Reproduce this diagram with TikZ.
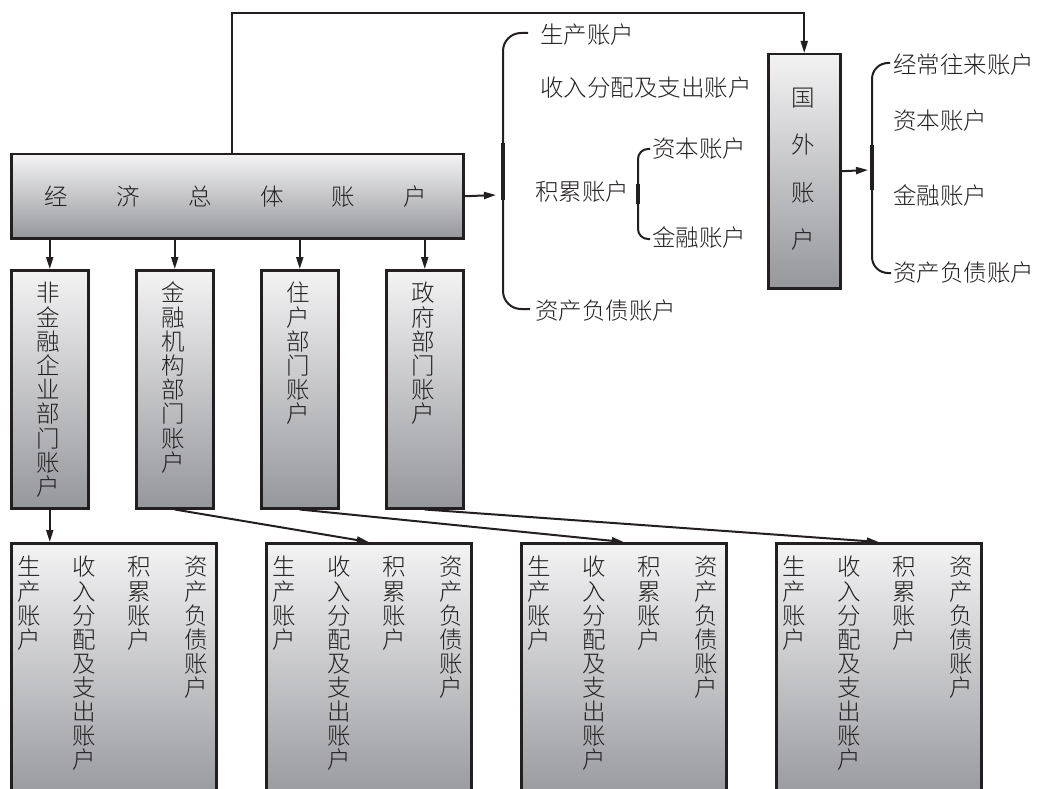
\documentclass[tikz,border=0pt]{standalone}
\usepackage{fontspec}
\IfFontExistsTF{Noto Sans CJK SC Light}
  {\newfontfamily\cjk{Noto Sans CJK SC Light}}
  {\newfontfamily\cjk{Noto Sans CJK SC}}
\usetikzlibrary{arrows.meta}
\definecolor{ink}{RGB}{35,31,32}
\definecolor{gtop}{RGB}{243,243,244}
\definecolor{gbot}{RGB}{150,151,155}
\newcommand\vstackcol[5]{%
  \foreach \ch [count=\i from 0] in {#5} {\node[txt] (#1-\i) at (#2, #3+\i*#4) {\ch};}}
\begin{document}
\begin{tikzpicture}[x=1pt,y=-1pt,
  box/.style={draw=ink,line width=2.5pt,top color=gtop,bottom color=gbot,rectangle,inner sep=0pt,anchor=north west},
  txt/.style={font=\cjk\fontsize{23.5}{24}\selectfont,text=ink,inner sep=0pt,text height=20.7pt,text depth=2.8pt},
  conn/.style={draw=ink,line width=2pt,-{Triangle[length=12pt,width=7pt]}},
  brace/.style={draw=ink,line width=2pt}]
\clip (0,0) rectangle (1037,789);
% boxes
\node[box,minimum width=452pt,minimum height=84pt] (eco) at (10,153) {};
\node[box,minimum width=72pt,minimum height=234pt] (frn) at (767,53) {};
\node[box,minimum width=77pt,minimum height=238pt] (sec1) at (10,269) {};
\node[box,minimum width=77pt,minimum height=238pt] (sec2) at (135,269) {};
\node[box,minimum width=77pt,minimum height=238pt] (sec3) at (260,269) {};
\node[box,minimum width=77pt,minimum height=238pt] (sec4) at (385,269) {};
\node[box,minimum width=205pt,minimum height=262pt] (bA) at (10,542) {};
\node[box,minimum width=205pt,minimum height=262pt] (bB) at (265,542) {};
\node[box,minimum width=205pt,minimum height=262pt] (bC) at (520,542) {};
\node[box,minimum width=205pt,minimum height=262pt] (bD) at (775,542) {};
% main text
\foreach \ch/\xx [count=\i] in {经/56,济/128,总/200,体/272,账/343,户/415}
  {\node[txt] (eco-\i) at (\xx,197) {\ch};}
% foreign text
\foreach \ch/\yy [count=\i] in {国/98,外/145,账/193,户/240}
  {\node[txt] (frn-\i) at (803,\yy) {\ch};}
% sector texts
\vstackcol{s1}{48.5}{293}{24.2}{非,金,融,企,业,部,门,账,户}
\vstackcol{s2}{173.5}{293}{24.2}{金,融,机,构,部,门,账,户}
\vstackcol{s3}{298.5}{293}{24.2}{住,户,部,门,账,户}
\vstackcol{s4}{423.5}{293}{24.2}{政,府,部,门,账,户}
% bottom texts
\foreach \bx/\nm in {10/A,265/B,520/C,775/D}{
  \vstackcol{\nm1}{\bx+19}{567}{24.1}{生,产,账,户}
  \vstackcol{\nm2}{\bx+74}{567}{24.1}{收,入,分,配,及,支,出,账,户}
  \vstackcol{\nm3}{\bx+129}{567}{24.1}{积,累,账,户}
  \vstackcol{\nm4}{\bx+186}{567}{24.1}{资,产,负,债,账,户}
}
% brace texts
\node[txt,anchor=west] (t1) at (540,35) {生产账户};
\node[txt,anchor=west] (t2) at (540,88) {收入分配及支出账户};
\node[txt,anchor=west] (t3) at (535,192) {积累账户};
\node[txt,anchor=west] (t4) at (652,149) {资本账户};
\node[txt,anchor=west] (t5) at (652,238) {金融账户};
\node[txt,anchor=west] (t6) at (535,311) {资产负债账户};
\node[txt,anchor=west] (r1) at (893,65) {经常往来账户};
\node[txt,anchor=west] (r2) at (893,121) {资本账户};
\node[txt,anchor=west] (r3) at (893,196) {金融账户};
\node[txt,anchor=west] (r4) at (893,273) {资产负债账户};
% braces
\draw[brace,rounded corners=18pt] (528,33) -- (503,33) -- (503,309) -- (530,309);
\draw[ink,line width=3.2pt] (503,143) -- (503,200);
\draw[brace,rounded corners=10pt] (650,149) -- (638,149) -- (638,239) -- (650,239);
\draw[ink,line width=3.2pt] (638,184) -- (638,204);
\draw[brace,rounded corners=16pt] (890,63) -- (872,63) -- (872,273) -- (891,273);
\draw[ink,line width=3.2pt] (872,145) -- (872,190);
% connectors
\coordinate (loop) at (232,13);
\draw[conn] (eco.north -| loop) -- (loop) -| (frn.north);
\coordinate (b1tip) at (496,195);
\draw[conn] (eco.east) -- (b1tip);
\coordinate (b3tip) at (868,170);
\draw[conn] (frn.east) -- (b3tip);
\foreach \s in {sec1,sec2,sec3,sec4}
  {\draw[conn] (eco.south -| \s.north) -- (\s.north);}
\draw[conn] (sec1.south) -- (sec1.south |- bA.north);
\draw[conn] (sec2.south) -- (bB.north);
\draw[conn] (sec3.south) -- (bC.north);
\draw[conn] (sec4.south) -- (bD.north);
\end{tikzpicture}
\end{document}
